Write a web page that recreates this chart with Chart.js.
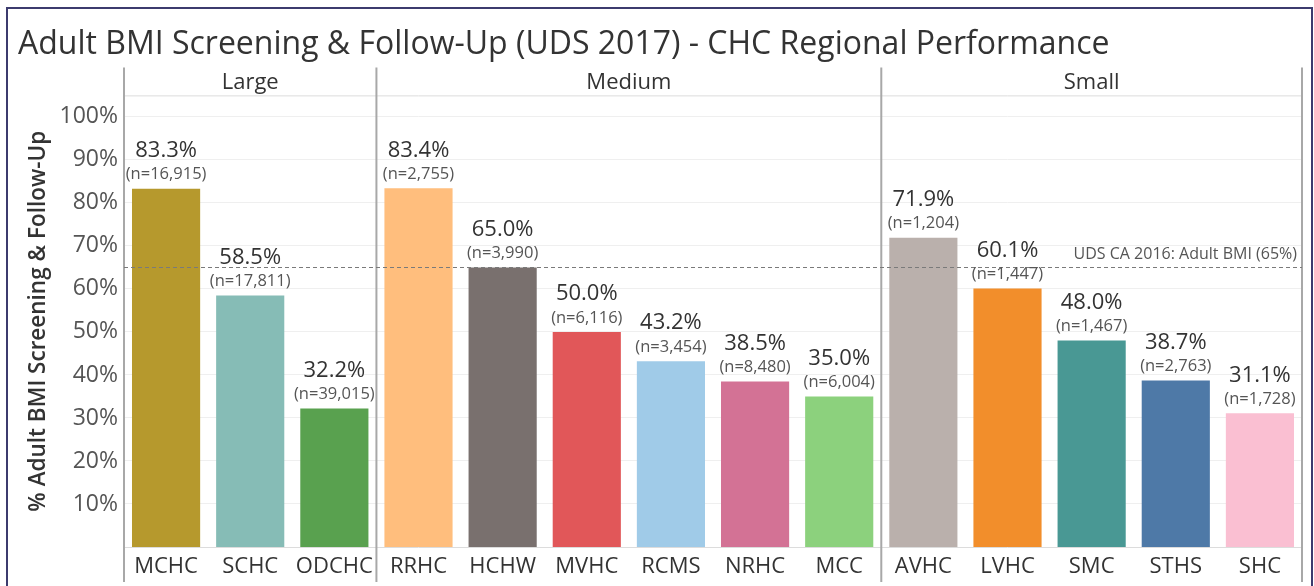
<!DOCTYPE html>
<html>
<head>
<meta charset="utf-8">
<title>Adult BMI Screening &amp; Follow-Up (UDS 2017)</title>
<script src="https://cdn.jsdelivr.net/npm/chart.js@4/dist/chart.umd.min.js"></script>
<style>
    html, body { margin: 0; padding: 0; background: #fff; }
    #wrap { width: 1314px; height: 586px; position: relative; }
</style>
</head>
<body>
<div id="wrap"><canvas id="chart" width="1314" height="586"></canvas></div>
<script>
// Chart data.
const centres = ['MCHC', 'SCHC', 'ODCHC', 'RRHC', 'HCHW', 'MVHC', 'RCMS', 'NRHC', 'MCC', 'AVHC', 'LVHC', 'SMC', 'STHS', 'SHC'];
const sizeGroup = ['Large', 'Large', 'Large', 'Medium', 'Medium', 'Medium', 'Medium', 'Medium', 'Medium', 'Small', 'Small', 'Small', 'Small', 'Small'];
const rates = [83.3, 58.5, 32.2, 83.4, 65.0, 50.0, 43.2, 38.5, 35.0, 71.9, 60.1, 48.0, 38.7, 31.1];
const patients = [16915, 17811, 39015, 2755, 3990, 6116, 3454, 8480, 6004, 1204, 1447, 1467, 2763, 1728];
const barColours = ['#B6992D', '#86BCB6', '#59A14F', '#FFBE7D', '#79706E', '#E15759', '#A0CBE8', '#D37295', '#8CD17D', '#BAB0AC', '#F28E2B', '#499894', '#4E79A7', '#FABFD2'];
const yTicks = [10, 20, 30, 40, 50, 60, 70, 80, 90, 100];
const benchmark = 65;
const benchmarkLabel = 'UDS CA 2016: Adult BMI (65%)';

const FONT = "'Open Sans', 'Noto Sans', sans-serif";
const fmtInt = (n) => new Intl.NumberFormat('en-US').format(n);

// Panel frame: header strip, group separators, baseline and the outer border.
const panelsPlugin = {
    id: 'panels',
    beforeDatasetsDraw(chart) {
        const { ctx, chartArea: a } = chart;
        ctx.save();
        ctx.strokeStyle = '#dcdcdc';
        ctx.lineWidth = 1;
        ctx.beginPath();
        ctx.moveTo(a.left, a.top + 0.5);
        ctx.lineTo(a.right, a.top + 0.5);
        ctx.moveTo(a.left, a.bottom + 0.5);
        ctx.lineTo(a.right, a.bottom + 0.5);
        ctx.stroke();
        ctx.restore();
    },
    afterDatasetsDraw(chart) {
        const { ctx, chartArea: a, scales: { x } } = chart;
        // group boundaries sit half-way between neighbouring categories
        const edges = [a.left];
        const groups = [];
        let start = 0;
        for (let i = 1; i <= centres.length; i++) {
            if (i === centres.length || sizeGroup[i] !== sizeGroup[i - 1]) {
                const right = i === centres.length
                    ? a.right
                    : (x.getPixelForValue(i - 1) + x.getPixelForValue(i)) / 2;
                groups.push({ name: sizeGroup[start], left: edges[edges.length - 1], right });
                edges.push(right);
                start = i;
            }
        }
        ctx.save();
        ctx.strokeStyle = '#a8a8a8';
        ctx.lineWidth = 2;
        ctx.beginPath();
        edges.forEach((ex) => {
            ctx.moveTo(ex, a.top - 28);
            ctx.lineTo(ex, a.bottom + 35);
        });
        ctx.stroke();

        ctx.fillStyle = '#333';
        ctx.font = `22px ${FONT}`;
        ctx.textAlign = 'center';
        ctx.textBaseline = 'middle';
        groups.forEach((g) => ctx.fillText(g.name, (g.left + g.right) / 2, a.top - 13));

        // outer frame
        ctx.strokeStyle = '#3c3b6e';
        ctx.lineWidth = 2;
        ctx.strokeRect(7, 8, chart.width - 9, chart.height + 10);
        ctx.restore();
    },
};

// Benchmark line and value labels above each bar.
const labelsPlugin = {
    id: 'barLabels',
    afterDatasetsDraw(chart) {
        const { ctx, chartArea: a, scales: { y } } = chart;
        const yb = Math.round(y.getPixelForValue(benchmark)) + 0.5;
        ctx.save();
        ctx.strokeStyle = '#7a7a7a';
        ctx.lineWidth = 1;
        ctx.setLineDash([4, 3]);
        ctx.beginPath();
        ctx.moveTo(a.left, yb);
        ctx.lineTo(a.right, yb);
        ctx.stroke();
        ctx.setLineDash([]);

        ctx.fillStyle = '#555';
        ctx.font = `16px ${FONT}`;
        ctx.textAlign = 'right';
        ctx.textBaseline = 'middle';
        ctx.fillText(benchmarkLabel, a.right - 5, yb - 13);

        const meta = chart.getDatasetMeta(0);
        ctx.textAlign = 'center';
        meta.data.forEach((bar, i) => {
            ctx.fillStyle = '#333';
            ctx.font = `22px ${FONT}`;
            ctx.fillText(rates[i].toFixed(1) + '%', bar.x, bar.y - 38);
            ctx.fillStyle = '#555';
            ctx.font = `16.5px ${FONT}`;
            ctx.fillText(`(n=${fmtInt(patients[i])})`, bar.x, bar.y - 14);
        });
        ctx.restore();
    },
};

new Chart(document.getElementById('chart'), {
    type: 'bar',
    data: {
        labels: centres,
        datasets: [{
            data: rates,
            backgroundColor: barColours,
            borderWidth: 0,
            barPercentage: 0.81,
            categoryPercentage: 1,
        }],
    },
    options: {
        responsive: false,
        animation: false,
        layout: { padding: { left: 18, right: 12, top: 0, bottom: 0 } },
        plugins: {
            legend: { display: false },
            tooltip: { enabled: false },
            title: {
                display: true,
                text: 'Adult BMI Screening & Follow-Up (UDS 2017) - CHC Regional Performance',
                align: 'start',
                color: '#333',
                font: { family: FONT, size: 32, weight: 'normal', lineHeight: 1.2 },
                padding: { top: 26, bottom: 31 },
            },
        },
        scales: {
            x: {
                grid: { display: false, drawTicks: false },
                border: { display: false },
                ticks: { color: '#333', font: { family: FONT, size: 22 }, padding: 7, maxRotation: 0, autoSkip: false },
                afterFit: (scale) => { scale.height = 39; },
            },
            y: {
                min: 0,
                max: 105,
                afterBuildTicks: (scale) => { scale.ticks = yTicks.map((v) => ({ value: v })); },
                grid: { color: '#efefef', drawTicks: false },
                border: { display: false },
                ticks: { color: '#555', font: { family: FONT, size: 23 }, padding: 6, callback: (v) => v + '%' },
                title: {
                    display: true,
                    text: '% Adult BMI Screening & Follow-Up',
                    color: '#333',
                    font: { family: FONT, size: 22.5, weight: '600', lineHeight: 1.2 },
                    padding: { top: 7, bottom: 0 },
                },
                afterFit: (scale) => { scale.width = 106; },
            },
        },
    },
    plugins: [panelsPlugin, labelsPlugin],
});
</script>
</body>
</html>
